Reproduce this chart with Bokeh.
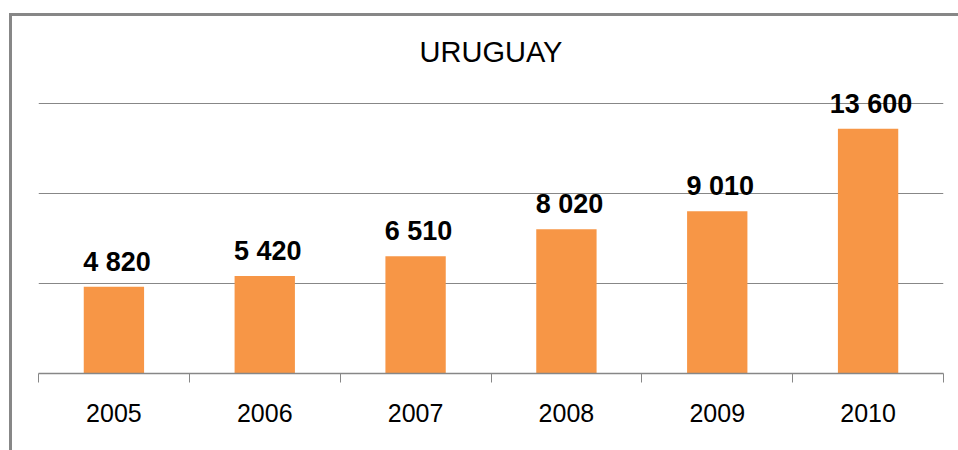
from bokeh.plotting import figure
from bokeh.models import ColumnDataSource, Range1d, FixedTicker
from bokeh.core.properties import value
from bokeh.embed import file_html
from bokeh.resources import INLINE

years = ["2005", "2006", "2007", "2008", "2009", "2010"]
values = [4820, 5420, 6510, 8020, 9010, 13600]
value_labels = ["4 820", "5 420", "6 510", "8 020", "9 010", "13 600"]
y_ticks = [0, 5000, 10000, 15000]

FONT = "Liberation Sans"
GRAY = "#878787"

centers = [i + 0.5 for i in range(len(years))]
source = ColumnDataSource(dict(x=centers, top=values, label=value_labels))

# plot frame spans 80..373 px; 15000 sits at 103 px, leaving headroom for labels
p = figure(width=958, height=450, output_backend="svg", toolbar_location=None,
           x_range=Range1d(0, len(years)), y_range=Range1d(0, 15000 * 293 / 270),
           min_border_left=38, min_border_right=15, min_border_top=80, min_border_bottom=77,
           background_fill_color="white", border_fill_alpha=0)

# chart-area border (top and left edges), drawn as the figure's CSS background
p.styles = {
    "background-color": "white",
    "background-image": f"linear-gradient({GRAY}, {GRAY}), linear-gradient({GRAY}, {GRAY})",
    "background-size": "3px 437px, 949px 3px",
    "background-position": "9px 13px, 9px 13px",
    "background-repeat": "no-repeat",
}

p.title.text = "URUGUAY"
p.title.align = "center"
p.title.text_font = FONT
p.title.text_font_size = "29px"
p.title.text_font_style = "normal"
p.title.text_color = "black"
p.title.standoff = 25

p.vbar(x="x", top="top", width=0.4, bottom=0, source=source,
       fill_color="#F79646", line_color=None)

p.text(x="x", y="top", text="label", source=source,
       text_font=value(FONT), text_font_size="27px", text_font_style="bold",
       text_color="black", text_align="center", text_baseline="alphabetic",
       x_offset=3, y_offset=-25)

# x axis: labels at category centres, ticks at category boundaries
xt = FixedTicker(ticks=centers, minor_ticks=list(range(len(years) + 1)))
p.xaxis.ticker = xt
p.xaxis.major_label_overrides = {c: y for c, y in zip(centers, years)}
p.xaxis.major_tick_line_color = None
p.xaxis.major_tick_out = 0
p.xaxis.major_tick_in = 0
p.xaxis.minor_tick_line_color = GRAY
p.xaxis.minor_tick_out = 9
p.xaxis.minor_tick_in = 0
p.xaxis.axis_line_color = GRAY
p.xaxis.axis_line_width = 1.5
p.xaxis.major_label_text_font = FONT
p.xaxis.major_label_text_font_size = "25px"
p.xaxis.major_label_text_color = "black"
p.xaxis.major_label_standoff = 21

yt = FixedTicker(ticks=y_ticks)
p.yaxis.ticker = yt
p.yaxis.visible = False
p.ygrid.ticker = yt
p.ygrid.grid_line_color = GRAY
p.ygrid.grid_line_width = 1
p.xgrid.visible = False
p.outline_line_color = None

open("out.html", "w").write(file_html(p, INLINE))
